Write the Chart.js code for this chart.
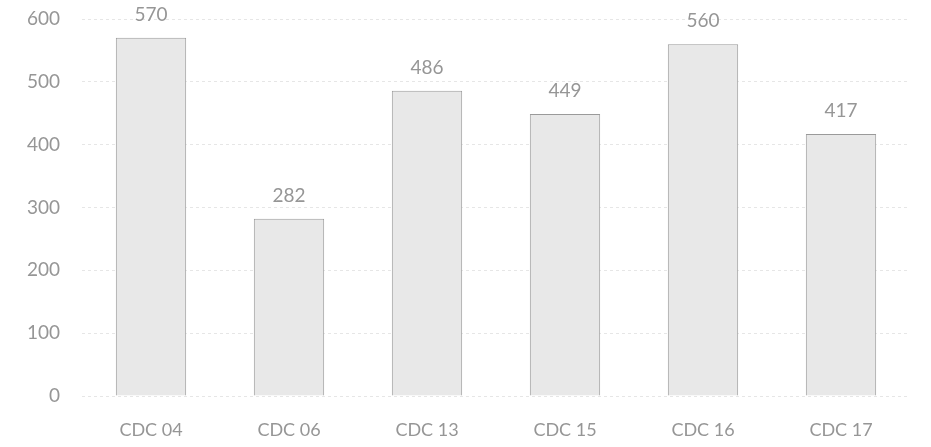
<!DOCTYPE html>
<html>
<head>
<meta charset="utf-8">
<script src="https://cdn.jsdelivr.net/npm/chart.js@4/dist/chart.umd.min.js"></script>
<style>
html,body{margin:0;padding:0;background:#fff;overflow:hidden;}
canvas{display:block;}
</style>
</head>
<body>
<canvas id="c" width="931" height="447" style="width:931px;height:447px;"></canvas>
<script>
const categories = ["CDC 04", "CDC 06", "CDC 13", "CDC 15", "CDC 16", "CDC 17"];
const values = [570, 282, 486, 449, 560, 417];
const yTicks = [0, 100, 200, 300, 400, 500, 600];

const labelPlugin = {
  id: 'valueLabels',
  afterDatasetsDraw(chart) {
    const ctx = chart.ctx;
    const meta = chart.getDatasetMeta(0);
    ctx.save();
    ctx.font = '19px Lato';
    ctx.fillStyle = '#969696';
    ctx.textAlign = 'center';
    ctx.textBaseline = 'middle';
    meta.data.forEach((bar, i) => {
      ctx.fillText(String(values[i]), bar.x, bar.y - 23);
    });
    ctx.restore();
  }
};

new Chart(document.getElementById('c'), {
  type: 'bar',
  data: {
    labels: categories,
    datasets: [{
      data: values,
      backgroundColor: '#e8e8e8',
      borderColor: '#9a9a9a',
      borderWidth: 1,
      barPercentage: 0.51,
      categoryPercentage: 1.0
    }]
  },
  options: {
    responsive: false,
    maintainAspectRatio: false,
    animation: false,
    devicePixelRatio: 1,
    layout: { padding: { top: 19, right: 21, bottom: 0, left: 0 } },
    plugins: { legend: { display: false }, tooltip: { enabled: false } },
    scales: {
      x: {
        afterFit(scale) { scale.height = 51; },
        grid: { display: false, drawTicks: false },
        border: { display: false },
        ticks: { color: '#969696', font: { family: 'Lato', size: 18 }, padding: 23 }
      },
      y: {
        min: 0, max: 600,
        afterBuildTicks(scale) { scale.ticks = yTicks.map(v => ({ value: v })); },
        afterFit(scale) { scale.width = 82; scale.paddingTop = 0; scale.paddingBottom = 0; },
        grid: { color: '#e6e6e6', drawTicks: false, lineWidth: 1 },
        border: { display: false, dash: [3, 3] },
        ticks: { color: '#969696', font: { family: 'Lato', size: 19 }, padding: 22 }
      }
    }
  },
  plugins: [labelPlugin]
});
</script>
</body>
</html>
